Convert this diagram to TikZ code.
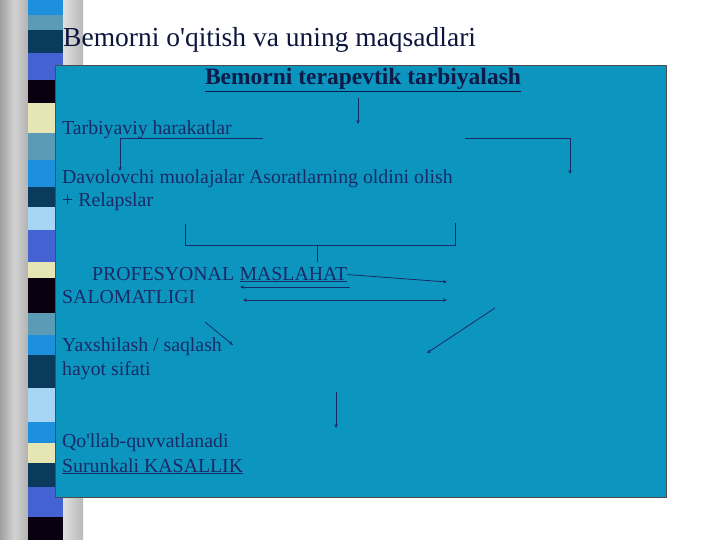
\documentclass[tikz,border=0pt]{standalone}
\usepackage{fontspec}
\setmainfont{Liberation Serif}
\usetikzlibrary{arrows.meta,backgrounds}
\definecolor{panelblue}{HTML}{0C96BF}
\definecolor{inkblue}{HTML}{1A2A66}
\definecolor{headink}{HTML}{0E1A48}
\definecolor{stA}{HTML}{1E8FDC}
\definecolor{stB}{HTML}{5B9BB5}
\definecolor{stC}{HTML}{0B3B5C}
\definecolor{stD}{HTML}{4462D2}
\definecolor{stE}{HTML}{0A0010}
\definecolor{stF}{HTML}{E6E6B4}
\definecolor{stG}{HTML}{A6D6F4}
\tikzset{
  bodytext/.style={font=\fontsize{19.8}{23}\selectfont, text=inkblue, inner sep=0pt, anchor=base west},
  headtext/.style={font=\fontsize{23.5}{27}\selectfont\bfseries, text=headink, inner sep=0pt, anchor=base},
  titletext/.style={font=\fontsize{27.5}{32}\selectfont, text=headink!85!black, inner sep=0pt, anchor=base west},
  link/.style={draw=inkblue, line width=0.8pt},
  arr/.style={link, -{Stealth[length=4pt,width=3.5pt]}},
  dblarr/.style={link, {Stealth[length=4pt,width=3.5pt]}-{Stealth[length=4pt,width=3.5pt]}},
}
\begin{document}
\begin{tikzpicture}[x=1pt,y=-1pt]
  \useasboundingbox (0,0) rectangle (720,540);
  \fill[white] (0,0) rectangle (720,540);

  % Side strips
  \shade[left color=gray!75, right color=gray!35] (0,0) rectangle (14,540);
  \shade[left color=gray!35, right color=gray!60] (14,0) rectangle (28,540);
  \foreach \ya/\yb/\c in {0/15/stA,15/30/stB,30/53/stC,53/80/stD,80/103/stE,103/133/stF,
      133/160/stB,160/187/stA,187/207/stC,207/230/stG,230/262/stD,262/278/stF,278/313/stE,
      313/335/stB,335/355/stA,355/388/stC,388/422/stG,422/443/stA,443/463/stF,463/487/stC,
      487/517/stD,517/540/stE}
    \fill[\c] (28,\ya) rectangle (63,\yb);
  \shade[left color=gray!25, right color=gray!55] (63,0) rectangle (83,540);

  % Panel
  \draw[fill=panelblue, draw=black!70, line width=0.6pt] (55,65) rectangle (666,497);

  % Texts
  \node[titletext] (title) at (63,47) {Bemorni o\textquotesingle qitish va uning maqsadlari};
  \node[headtext] (head) at (363,85) {\underline{Bemorni terapevtik tarbiyalash}};
  \node[bodytext] (tarb) at (62,135) {Tarbiyaviy harakatlar};
  \node[bodytext] (davo) at (62,184) {Davolovchi muolajalar Asoratlarning oldini olish};
  \node[bodytext] (rel) at (62,207) {+ Relapslar};
  \node[bodytext] (prof) at (92,280) {PROFESYONAL};
  \node[bodytext, anchor=base west] (masl) at ([xshift=5pt]prof.base east) {\underline{MASLAHAT}};
  \node[bodytext] (salo) at (62,303) {SALOMATLIGI};
  \node[bodytext] (yax) at (62,351) {Yaxshilash / saqlash};
  \node[bodytext] (hayot) at (62,375) {hayot sifati};
  \node[bodytext] (qol) at (62,447) {Qo\textquotesingle llab-quvvatlanadi};
  \node[bodytext] (sur) at (62,472) {\underline{Surunkali KASALLIK}};

  % Free ends
  \coordinate (h1) at (358,124);
  \coordinate (t0) at (263,138);
  \coordinate (t1) at (120,171);
  \coordinate (r0) at (465,138);
  \coordinate (r1) at (570,174);
  \coordinate (bl) at (185,224);
  \coordinate (br) at (455,223);
  \coordinate (bm) at (317,245);
  \coordinate (m1) at (447,282);
  \coordinate (m0) at (350,287);
  \coordinate (m2) at (240,287);
  \coordinate (s0) at (243,300);
  \coordinate (s1) at (447,300);
  \coordinate (d0) at (495,308);
  \coordinate (d1) at (427,353);
  \coordinate (y0) at (205,322);
  \coordinate (y1) at (233,345);
  \coordinate (v0) at (336,392);
  \coordinate (v1) at (336,428);

  % Arrows
  \draw[arr] (head.south -| h1) ++(0,6) -- (h1);
  \draw[arr] (t0) -| (t1);
  \draw[arr] (r0) -| (r1);
  \draw[link] (bl) |- (br |- bm) -- (br);
  \draw[link] (bm) -- ++(0,17);
  \draw[arr] (masl.east) -- (m1);
  \draw[arr] (m0) -- (m2);
  \draw[dblarr] (s0) -- (s1);
  \draw[arr] (d0) -- (d1);
  \draw[arr] (y0) -- (y1);
  \draw[arr] (v0) -- (v1);
\end{tikzpicture}
\end{document}
